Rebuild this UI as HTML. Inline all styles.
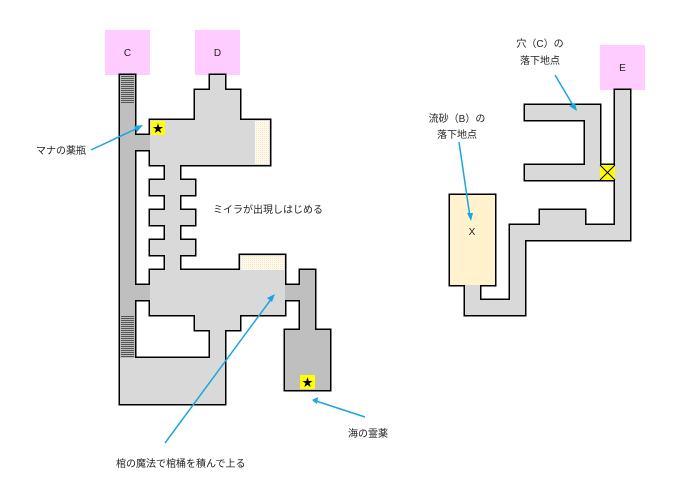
<!DOCTYPE html>
<html><head><meta charset="utf-8"><style>
html,body{margin:0;padding:0;background:#fff;}
svg{display:block;}
text{font-family:"Liberation Sans","Noto Sans CJK JP",sans-serif;font-size:10px;fill:#222;}
</style></head><body>
<svg width="675" height="495" viewBox="0 0 675 495" xmlns="http://www.w3.org/2000/svg">
<defs>
<pattern id="st" width="4" height="2" patternUnits="userSpaceOnUse"><rect width="4" height="2" fill="#bdbdbd"/><rect width="4" height="1" fill="#555"/></pattern>
<pattern id="ht" width="2" height="2" patternUnits="userSpaceOnUse"><rect width="2" height="2" fill="#fefaf0"/><rect width="1" height="1" fill="#fae6bb"/></pattern>
</defs>
<rect x="105" y="30" width="45" height="45" fill="#ffccff"/>
<rect x="195" y="30" width="45" height="45" fill="#ffccff"/>
<rect x="600" y="45" width="45" height="45" fill="#ffccff"/>
<text x="127.5" y="56" text-anchor="middle">C</text>
<text x="217.5" y="56" text-anchor="middle">D</text>
<text x="622.5" y="71" text-anchor="middle">E</text>
<g fill="#000" stroke="#000" stroke-width="3">
<rect x="120" y="75" width="15" height="283"/>
<rect x="135" y="135" width="15" height="15"/>
<rect x="135" y="285" width="15" height="15"/>
<rect x="210" y="75" width="15" height="15"/>
<rect x="195" y="90" width="45" height="30"/>
<rect x="150" y="120" width="120" height="45"/>
<rect x="165" y="165" width="15" height="105"/>
<rect x="150" y="180" width="45" height="15"/>
<rect x="150" y="210" width="45" height="15"/>
<rect x="150" y="240" width="45" height="15"/>
<rect x="150" y="270" width="135" height="45"/>
<rect x="240" y="255" width="45" height="15"/>
<rect x="195" y="315" width="45" height="15"/>
<rect x="210" y="330" width="15" height="30"/>
<rect x="120" y="358" width="105" height="46"/>
<rect x="285" y="285" width="15" height="15"/>
<rect x="300" y="270" width="15" height="60"/>
<rect x="285" y="330" width="45" height="60"/>
<rect x="615" y="90" width="15" height="150"/>
<rect x="510" y="225" width="120" height="15"/>
<rect x="540" y="210" width="45" height="15"/>
<rect x="510" y="225" width="15" height="90"/>
<rect x="465" y="300" width="60" height="15"/>
<rect x="465" y="285" width="15" height="15"/>
<rect x="450" y="195" width="45" height="90"/>
<rect x="525" y="105" width="75" height="15"/>
<rect x="585" y="105" width="15" height="75"/>
<rect x="525" y="165" width="75" height="15"/>
<rect x="600" y="165" width="15" height="15"/>
</g>
<g fill="#d9d9d9">
<rect x="120" y="75" width="15" height="283" fill="#bfbfbf"/>
<rect x="135" y="135" width="15" height="15" fill="#bfbfbf"/>
<rect x="135" y="285" width="15" height="15" fill="#bfbfbf"/>
<rect x="210" y="75" width="15" height="15"/>
<rect x="195" y="90" width="45" height="30"/>
<rect x="150" y="120" width="120" height="45"/>
<rect x="165" y="165" width="15" height="105"/>
<rect x="150" y="180" width="45" height="15"/>
<rect x="150" y="210" width="45" height="15"/>
<rect x="150" y="240" width="45" height="15"/>
<rect x="150" y="270" width="135" height="45"/>
<rect x="240" y="255" width="45" height="15"/>
<rect x="195" y="315" width="45" height="15"/>
<rect x="210" y="330" width="15" height="30"/>
<rect x="120" y="358" width="105" height="46"/>
<rect x="285" y="285" width="15" height="15" fill="#bfbfbf"/>
<rect x="300" y="270" width="15" height="60" fill="#bfbfbf"/>
<rect x="285" y="330" width="45" height="60" fill="#bfbfbf"/>
<rect x="615" y="90" width="15" height="150"/>
<rect x="510" y="225" width="120" height="15"/>
<rect x="540" y="210" width="45" height="15"/>
<rect x="510" y="225" width="15" height="90"/>
<rect x="465" y="300" width="60" height="15"/>
<rect x="465" y="285" width="15" height="15"/>
<rect x="450" y="195" width="45" height="90" fill="#fff2cc"/>
<rect x="525" y="105" width="75" height="15"/>
<rect x="585" y="105" width="15" height="75"/>
<rect x="525" y="165" width="75" height="15"/>
<rect x="600" y="165" width="15" height="15" fill="#ffff00"/>
</g>
<line x1="600" y1="165" x2="615" y2="180" stroke="#000" stroke-width="1"/>
<line x1="615" y1="165" x2="600" y2="180" stroke="#000" stroke-width="1"/>
<rect x="121" y="76" width="13" height="27" fill="url(#st)"/>
<rect x="121" y="315" width="13" height="43" fill="url(#st)"/>
<rect x="255" y="121" width="14" height="43" fill="url(#ht)"/>
<rect x="241" y="256" width="43" height="14" fill="url(#ht)"/>
<rect x="151" y="121" width="14" height="14" fill="#ffff00"/>
<text x="158" y="132" text-anchor="middle" style="font-size:11px;fill:#000">★</text>
<rect x="300" y="375" width="15" height="14" fill="#ffff00"/>
<text x="307.5" y="386" text-anchor="middle" style="font-size:11px;fill:#000">★</text>
<text x="472" y="235" text-anchor="middle">X</text>
<g stroke="#1aa6e0" stroke-width="1.5" fill="#1aa6e0">
<line x1="91" y1="150" x2="140" y2="127"/>
<line x1="165" y1="443" x2="272" y2="298"/>
<line x1="365" y1="417" x2="316" y2="401"/>
<line x1="555" y1="75" x2="574" y2="107"/>
<line x1="459" y1="142" x2="470" y2="217"/>
</g>
<g fill="#1aa6e0">
<polygon points="143,125 134,126 137,132"/>
<polygon points="275,294 267,298 272,302"/>
<polygon points="312,400 318,397 317,404"/>
<polygon points="577,111 569,106 575,103"/>
<polygon points="471,221 467,213 473,213"/>
</g>
<text x="36" y="154">マナの薬瓶</text>
<text x="213" y="213">ミイラが出現しはじめる</text>
<text x="116" y="467">棺の魔法で棺桶を積んで上る</text>
<text x="348" y="437">海の霊薬</text>
<text x="540" y="47" text-anchor="middle">穴（C）の</text>
<text x="540" y="64" text-anchor="middle">落下地点</text>
<text x="457" y="122" text-anchor="middle">流砂（B）の</text>
<text x="457" y="138" text-anchor="middle">落下地点</text>
</svg>
</body></html>
